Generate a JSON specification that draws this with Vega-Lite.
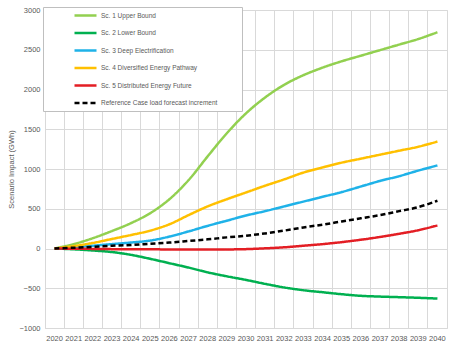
{
  "$schema": "https://vega.github.io/schema/vega-lite/v6.json",
  "autosize": {"type": "none"},
  "width": 402,
  "height": 318,
  "padding": {"left": 45, "top": 10, "right": 16, "bottom": 29},
  "background": "white",
  "config": {
    "font": "Liberation Sans",
    "view": {"stroke": "#d9d9d9", "strokeWidth": 1},
    "axis": {"labelColor": "#595959", "titleColor": "#595959", "gridColor": "#d9d9d9", "domain": false, "ticks": false}
  },
  "data": {"values": [
    {"year": "2020", "scenario": "Sc. 1 Upper Bound", "value": 0},
    {"year": "2021", "scenario": "Sc. 1 Upper Bound", "value": 55},
    {"year": "2022", "scenario": "Sc. 1 Upper Bound", "value": 130},
    {"year": "2023", "scenario": "Sc. 1 Upper Bound", "value": 220},
    {"year": "2024", "scenario": "Sc. 1 Upper Bound", "value": 320},
    {"year": "2025", "scenario": "Sc. 1 Upper Bound", "value": 445},
    {"year": "2026", "scenario": "Sc. 1 Upper Bound", "value": 620},
    {"year": "2027", "scenario": "Sc. 1 Upper Bound", "value": 860},
    {"year": "2028", "scenario": "Sc. 1 Upper Bound", "value": 1160},
    {"year": "2029", "scenario": "Sc. 1 Upper Bound", "value": 1450},
    {"year": "2030", "scenario": "Sc. 1 Upper Bound", "value": 1700},
    {"year": "2031", "scenario": "Sc. 1 Upper Bound", "value": 1900},
    {"year": "2032", "scenario": "Sc. 1 Upper Bound", "value": 2060},
    {"year": "2033", "scenario": "Sc. 1 Upper Bound", "value": 2180},
    {"year": "2034", "scenario": "Sc. 1 Upper Bound", "value": 2275},
    {"year": "2035", "scenario": "Sc. 1 Upper Bound", "value": 2355},
    {"year": "2036", "scenario": "Sc. 1 Upper Bound", "value": 2425},
    {"year": "2037", "scenario": "Sc. 1 Upper Bound", "value": 2495},
    {"year": "2038", "scenario": "Sc. 1 Upper Bound", "value": 2565},
    {"year": "2039", "scenario": "Sc. 1 Upper Bound", "value": 2635},
    {"year": "2040", "scenario": "Sc. 1 Upper Bound", "value": 2720},
    {"year": "2020", "scenario": "Sc. 2 Lower Bound", "value": 0},
    {"year": "2021", "scenario": "Sc. 2 Lower Bound", "value": -10},
    {"year": "2022", "scenario": "Sc. 2 Lower Bound", "value": -25},
    {"year": "2023", "scenario": "Sc. 2 Lower Bound", "value": -45},
    {"year": "2024", "scenario": "Sc. 2 Lower Bound", "value": -80},
    {"year": "2025", "scenario": "Sc. 2 Lower Bound", "value": -130},
    {"year": "2026", "scenario": "Sc. 2 Lower Bound", "value": -185},
    {"year": "2027", "scenario": "Sc. 2 Lower Bound", "value": -240},
    {"year": "2028", "scenario": "Sc. 2 Lower Bound", "value": -300},
    {"year": "2029", "scenario": "Sc. 2 Lower Bound", "value": -350},
    {"year": "2030", "scenario": "Sc. 2 Lower Bound", "value": -395},
    {"year": "2031", "scenario": "Sc. 2 Lower Bound", "value": -445},
    {"year": "2032", "scenario": "Sc. 2 Lower Bound", "value": -490},
    {"year": "2033", "scenario": "Sc. 2 Lower Bound", "value": -525},
    {"year": "2034", "scenario": "Sc. 2 Lower Bound", "value": -550},
    {"year": "2035", "scenario": "Sc. 2 Lower Bound", "value": -575},
    {"year": "2036", "scenario": "Sc. 2 Lower Bound", "value": -595},
    {"year": "2037", "scenario": "Sc. 2 Lower Bound", "value": -605},
    {"year": "2038", "scenario": "Sc. 2 Lower Bound", "value": -612},
    {"year": "2039", "scenario": "Sc. 2 Lower Bound", "value": -620},
    {"year": "2040", "scenario": "Sc. 2 Lower Bound", "value": -630},
    {"year": "2020", "scenario": "Sc. 3 Deep Electrification", "value": 0},
    {"year": "2021", "scenario": "Sc. 3 Deep Electrification", "value": 15},
    {"year": "2022", "scenario": "Sc. 3 Deep Electrification", "value": 35},
    {"year": "2023", "scenario": "Sc. 3 Deep Electrification", "value": 55},
    {"year": "2024", "scenario": "Sc. 3 Deep Electrification", "value": 75},
    {"year": "2025", "scenario": "Sc. 3 Deep Electrification", "value": 100},
    {"year": "2026", "scenario": "Sc. 3 Deep Electrification", "value": 150},
    {"year": "2027", "scenario": "Sc. 3 Deep Electrification", "value": 215},
    {"year": "2028", "scenario": "Sc. 3 Deep Electrification", "value": 285},
    {"year": "2029", "scenario": "Sc. 3 Deep Electrification", "value": 350},
    {"year": "2030", "scenario": "Sc. 3 Deep Electrification", "value": 415},
    {"year": "2031", "scenario": "Sc. 3 Deep Electrification", "value": 470},
    {"year": "2032", "scenario": "Sc. 3 Deep Electrification", "value": 530},
    {"year": "2033", "scenario": "Sc. 3 Deep Electrification", "value": 590},
    {"year": "2034", "scenario": "Sc. 3 Deep Electrification", "value": 650},
    {"year": "2035", "scenario": "Sc. 3 Deep Electrification", "value": 710},
    {"year": "2036", "scenario": "Sc. 3 Deep Electrification", "value": 780},
    {"year": "2037", "scenario": "Sc. 3 Deep Electrification", "value": 850},
    {"year": "2038", "scenario": "Sc. 3 Deep Electrification", "value": 910},
    {"year": "2039", "scenario": "Sc. 3 Deep Electrification", "value": 980},
    {"year": "2040", "scenario": "Sc. 3 Deep Electrification", "value": 1045},
    {"year": "2020", "scenario": "Sc. 4 Diversified Energy Pathway", "value": 0},
    {"year": "2021", "scenario": "Sc. 4 Diversified Energy Pathway", "value": 30},
    {"year": "2022", "scenario": "Sc. 4 Diversified Energy Pathway", "value": 70},
    {"year": "2023", "scenario": "Sc. 4 Diversified Energy Pathway", "value": 120},
    {"year": "2024", "scenario": "Sc. 4 Diversified Energy Pathway", "value": 170},
    {"year": "2025", "scenario": "Sc. 4 Diversified Energy Pathway", "value": 225},
    {"year": "2026", "scenario": "Sc. 4 Diversified Energy Pathway", "value": 305},
    {"year": "2027", "scenario": "Sc. 4 Diversified Energy Pathway", "value": 420},
    {"year": "2028", "scenario": "Sc. 4 Diversified Energy Pathway", "value": 530},
    {"year": "2029", "scenario": "Sc. 4 Diversified Energy Pathway", "value": 620},
    {"year": "2030", "scenario": "Sc. 4 Diversified Energy Pathway", "value": 705},
    {"year": "2031", "scenario": "Sc. 4 Diversified Energy Pathway", "value": 790},
    {"year": "2032", "scenario": "Sc. 4 Diversified Energy Pathway", "value": 870},
    {"year": "2033", "scenario": "Sc. 4 Diversified Energy Pathway", "value": 955},
    {"year": "2034", "scenario": "Sc. 4 Diversified Energy Pathway", "value": 1020},
    {"year": "2035", "scenario": "Sc. 4 Diversified Energy Pathway", "value": 1080},
    {"year": "2036", "scenario": "Sc. 4 Diversified Energy Pathway", "value": 1130},
    {"year": "2037", "scenario": "Sc. 4 Diversified Energy Pathway", "value": 1180},
    {"year": "2038", "scenario": "Sc. 4 Diversified Energy Pathway", "value": 1230},
    {"year": "2039", "scenario": "Sc. 4 Diversified Energy Pathway", "value": 1280},
    {"year": "2040", "scenario": "Sc. 4 Diversified Energy Pathway", "value": 1345},
    {"year": "2020", "scenario": "Sc. 5 Distributed Energy Future", "value": 0},
    {"year": "2021", "scenario": "Sc. 5 Distributed Energy Future", "value": -3},
    {"year": "2022", "scenario": "Sc. 5 Distributed Energy Future", "value": -5},
    {"year": "2023", "scenario": "Sc. 5 Distributed Energy Future", "value": -8},
    {"year": "2024", "scenario": "Sc. 5 Distributed Energy Future", "value": -10},
    {"year": "2025", "scenario": "Sc. 5 Distributed Energy Future", "value": -10},
    {"year": "2026", "scenario": "Sc. 5 Distributed Energy Future", "value": -12},
    {"year": "2027", "scenario": "Sc. 5 Distributed Energy Future", "value": -12},
    {"year": "2028", "scenario": "Sc. 5 Distributed Energy Future", "value": -12},
    {"year": "2029", "scenario": "Sc. 5 Distributed Energy Future", "value": -12},
    {"year": "2030", "scenario": "Sc. 5 Distributed Energy Future", "value": -8},
    {"year": "2031", "scenario": "Sc. 5 Distributed Energy Future", "value": 2},
    {"year": "2032", "scenario": "Sc. 5 Distributed Energy Future", "value": 15},
    {"year": "2033", "scenario": "Sc. 5 Distributed Energy Future", "value": 35},
    {"year": "2034", "scenario": "Sc. 5 Distributed Energy Future", "value": 55},
    {"year": "2035", "scenario": "Sc. 5 Distributed Energy Future", "value": 80},
    {"year": "2036", "scenario": "Sc. 5 Distributed Energy Future", "value": 110},
    {"year": "2037", "scenario": "Sc. 5 Distributed Energy Future", "value": 145},
    {"year": "2038", "scenario": "Sc. 5 Distributed Energy Future", "value": 185},
    {"year": "2039", "scenario": "Sc. 5 Distributed Energy Future", "value": 230},
    {"year": "2040", "scenario": "Sc. 5 Distributed Energy Future", "value": 290},
    {"year": "2020", "scenario": "Reference Case load forecast increment", "value": 0},
    {"year": "2021", "scenario": "Reference Case load forecast increment", "value": 10},
    {"year": "2022", "scenario": "Reference Case load forecast increment", "value": 20},
    {"year": "2023", "scenario": "Reference Case load forecast increment", "value": 35},
    {"year": "2024", "scenario": "Reference Case load forecast increment", "value": 45},
    {"year": "2025", "scenario": "Reference Case load forecast increment", "value": 60},
    {"year": "2026", "scenario": "Reference Case load forecast increment", "value": 75},
    {"year": "2027", "scenario": "Reference Case load forecast increment", "value": 95},
    {"year": "2028", "scenario": "Reference Case load forecast increment", "value": 115},
    {"year": "2029", "scenario": "Reference Case load forecast increment", "value": 140},
    {"year": "2030", "scenario": "Reference Case load forecast increment", "value": 160},
    {"year": "2031", "scenario": "Reference Case load forecast increment", "value": 190},
    {"year": "2032", "scenario": "Reference Case load forecast increment", "value": 225},
    {"year": "2033", "scenario": "Reference Case load forecast increment", "value": 265},
    {"year": "2034", "scenario": "Reference Case load forecast increment", "value": 300},
    {"year": "2035", "scenario": "Reference Case load forecast increment", "value": 340},
    {"year": "2036", "scenario": "Reference Case load forecast increment", "value": 380},
    {"year": "2037", "scenario": "Reference Case load forecast increment", "value": 420},
    {"year": "2038", "scenario": "Reference Case load forecast increment", "value": 470},
    {"year": "2039", "scenario": "Reference Case load forecast increment", "value": 520},
    {"year": "2040", "scenario": "Reference Case load forecast increment", "value": 600}
  ]},
  "mark": {"type": "line", "strokeWidth": 2.5, "interpolate": "catmull-rom"},
  "encoding": {
    "x": {
      "field": "year", "type": "ordinal", "bandPosition": 0.5,
      "scale": {"type": "band", "paddingInner": 0, "paddingOuter": 0},
      "axis": {"title": null, "labelAngle": 0, "labelFontSize": 7.5, "labelPadding": 6, "grid": true, "bandPosition": 0}
    },
    "y": {
      "field": "value", "type": "quantitative",
      "scale": {"domain": [-1000, 3000], "nice": false},
      "axis": {"title": "Scenario Impact (GWh)", "format": "d", "titleFontSize": 7.5, "titleFontWeight": "normal", "titlePadding": 3, "labelFontSize": 7.5, "labelPadding": 5, "values": [-1000, -500, 0, 500, 1000, 1500, 2000, 2500, 3000], "grid": true}
    },
    "color": {
      "field": "scenario", "type": "nominal", "sort": null,
      "scale": {
        "domain": ["Sc. 1 Upper Bound", "Sc. 2 Lower Bound", "Sc. 3 Deep Electrification", "Sc. 4 Diversified Energy Pathway", "Sc. 5 Distributed Energy Future", "Reference Case load forecast increment"],
        "range": ["#92D050", "#00B050", "#1FB2E8", "#FFC000", "#E31E24", "#000000"]
      },
      "legend": {"title": "\u00a0", "titleOrient": "right", "titlePadding": 22, "titleFontSize": 6, "orient": "none", "legendX": -2, "legendY": -3, "padding": 3, "fillColor": "white", "strokeColor": "#bfbfbf", "symbolType": "M5.75,0H11.25", "symbolSize": 64, "symbolStrokeWidth": 2.5, "labelOffset": 44, "labelFontSize": 6.5, "labelColor": "#595959", "rowPadding": 6.5, "labelLimit": 300}
    },
    "strokeDash": {
      "field": "scenario", "type": "nominal", "sort": null,
      "scale": {
        "domain": ["Sc. 1 Upper Bound", "Sc. 2 Lower Bound", "Sc. 3 Deep Electrification", "Sc. 4 Diversified Energy Pathway", "Sc. 5 Distributed Energy Future", "Reference Case load forecast increment"],
        "range": [[1, 0], [1, 0], [1, 0], [1, 0], [1, 0], [5, 3]]
      },
      "legend": {"title": "\u00a0", "titleOrient": "right", "titlePadding": 22, "titleFontSize": 6, "orient": "none", "legendX": -2, "legendY": -3, "padding": 3, "fillColor": "white", "strokeColor": "#bfbfbf", "symbolType": "M5.75,0H11.25", "symbolSize": 64, "symbolStrokeWidth": 2.5, "labelOffset": 44, "labelFontSize": 6.5, "labelColor": "#595959", "rowPadding": 6.5, "labelLimit": 300}
    }
  }
}
